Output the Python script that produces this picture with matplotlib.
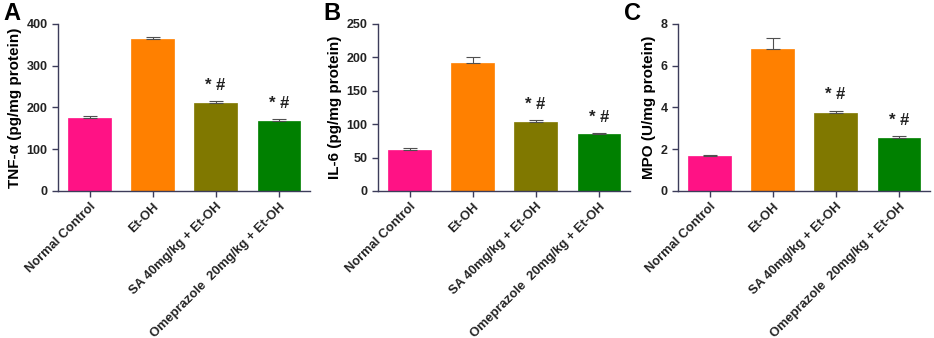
import matplotlib
matplotlib.use("Agg")
import matplotlib.pyplot as plt

plt.rcParams['font.family'] = ['Liberation Sans', 'DejaVu Sans']

categories = ["Normal Control", "Et-OH", "SA 40mg/kg + Et-OH", "Omeprazole  20mg/kg + Et-OH"]
colors = ["#FF1285", "#FF8000", "#807800", "#008000"]

tnf_values = [175, 365, 210, 167]
tnf_err = [5, 5, 5, 5]
il6_values = [62, 192, 103, 85]
il6_err = [3, 8, 3, 2]
mpo_values = [1.68, 6.80, 3.75, 2.52]
mpo_err = [0.03, 0.54, 0.10, 0.10]

annotations = ["", "", "* #", "* #"]

panels = [
    ("A", tnf_values, tnf_err, "TNF-\u03b1 (pg/mg protein)", [0, 100, 200, 300, 400], 400),
    ("B", il6_values, il6_err, "IL-6 (pg/mg protein)", [0, 50, 100, 150, 200, 250], 250),
    ("C", mpo_values, mpo_err, "MPO (U/mg protein)", [0, 2, 4, 6, 8], 8),
]

axis_color = "#3c3c5a"
fig = plt.figure(figsize=(9.34, 3.38), dpi=100)
lefts = [0.0621, 0.4047, 0.7259]
for (letter, vals, errs, ylabel, yticks, ymax), left in zip(panels, lefts):
    ax = fig.add_axes([left, 0.435, 0.270, 0.494])
    x = list(range(len(categories)))
    ax.bar(x, vals, width=0.67, color=colors, edgecolor=colors, linewidth=0.5, zorder=2)
    ax.errorbar(x, vals, yerr=[[0] * len(errs), errs], fmt='none', ecolor="#505050",
                elinewidth=0.8, capsize=5, capthick=0.8, zorder=3)
    for xi, v, e, a in zip(x, vals, errs, annotations):
        if a:
            ax.text(xi, v + e + ymax * 0.05, a, ha='center', va='bottom',
                    fontsize=12, fontweight='bold', color="#222222")
    ax.set_xlim(-0.5, 3.5)
    ax.set_ylim(0, ymax)
    ax.set_yticks(yticks)
    ax.set_xticks(x)
    ax.set_xticklabels(categories, rotation=45, ha='right', rotation_mode='anchor',
                       fontsize=9.3, fontweight='bold')
    for lab in ax.get_yticklabels():
        lab.set_fontweight('bold')
        lab.set_fontsize(9)
    ax.set_ylabel(ylabel, fontsize=11, fontweight='bold', labelpad=3)
    for s in ['top', 'right']:
        ax.spines[s].set_visible(False)
    for s in ['left', 'bottom']:
        ax.spines[s].set_color(axis_color)
        ax.spines[s].set_linewidth(1.0)
    ax.tick_params(axis='both', colors=axis_color, labelcolor="#222222", length=4, width=1.0)
    ax.tick_params(axis='x', pad=3)
    fig.text(left - 0.058, 0.995, letter, fontsize=17, fontweight='bold', va='top', ha='left')

fig.savefig("out.png", dpi=100)
